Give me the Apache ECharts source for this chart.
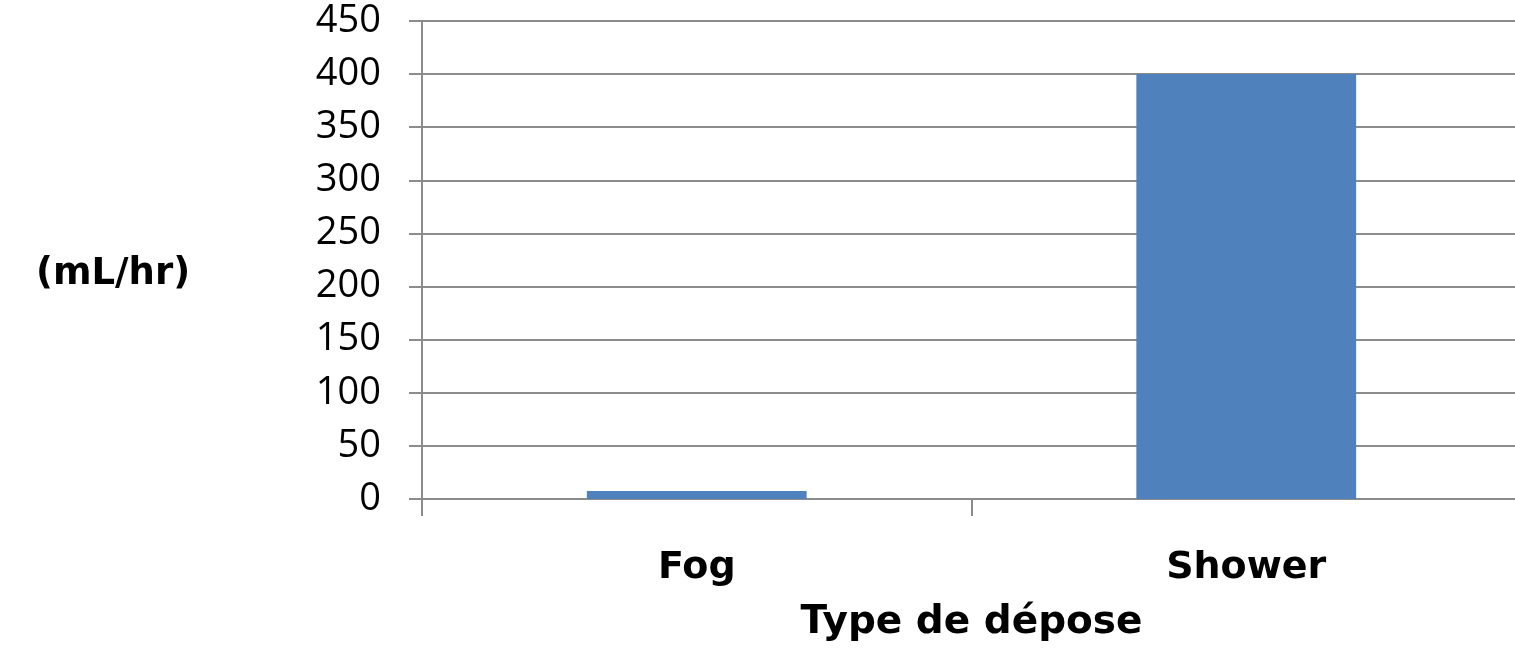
<!DOCTYPE html>
<html>
<head>
<meta charset="utf-8">
<script src="https://cdn.jsdelivr.net/npm/echarts@6/dist/echarts.min.js"></script>
<style>
  html, body { margin: 0; padding: 0; background: #ffffff; overflow: hidden; }
  #chart { width: 1521px; height: 649px; }
</style>
</head>
<body>
<div id="chart"></div>
<script>
// Deposition rate by spray type
const categories = ['Fog', 'Shower'];
const rates = [7.5, 400];
const axisTitleX = 'Type de dépose';
const axisTitleY = '(mL/hr)';
const yMin = 0, yMax = 450, yStep = 50;

const lineColor = '#8c8c8c';
const boldFont = { color: '#000000', fontFamily: 'DejaVu Sans', fontWeight: 'bold' };
const chart = echarts.init(document.getElementById('chart'), null, { renderer: 'canvas' });

chart.setOption({
  animation: false,
  backgroundColor: '#ffffff',
  title: {
    text: axisTitleY,
    left: 36,
    top: 256,
    padding: 0,
    textStyle: Object.assign({ fontSize: 37 }, boldFont)
  },
  grid: {
    left: 422, right: 0, top: 21, bottom: 150,
    containLabel: false,
    outerBoundsMode: 'none'
  },
  xAxis: {
    type: 'category',
    data: categories,
    boundaryGap: true,
    axisLine: { show: true, lineStyle: { color: lineColor, width: 2 } },
    axisTick: { show: true, alignWithLabel: false, length: 17, lineStyle: { color: lineColor, width: 2 } },
    axisLabel: Object.assign({ margin: 50, fontSize: 38 }, boldFont),
    name: axisTitleX,
    nameLocation: 'middle',
    nameGap: 104,
    nameTextStyle: Object.assign({ fontSize: 39 }, boldFont),
    splitLine: { show: false }
  },
  yAxis: {
    type: 'value',
    min: yMin,
    max: yMax,
    interval: yStep,
    axisLine: { show: true, lineStyle: { color: lineColor, width: 2 } },
    axisTick: { show: true, length: 13, lineStyle: { color: lineColor, width: 2 } },
    axisLabel: {
      margin: 41,
      color: '#000000',
      fontFamily: 'Open Sans',
      fontSize: 38
    },
    splitLine: { show: true, lineStyle: { color: lineColor, width: 2 } }
  },
  series: [{
    type: 'bar',
    data: rates,
    barWidth: '40%',
    itemStyle: { color: '#4f81bd' }
  }]
});
</script>
</body>
</html>
